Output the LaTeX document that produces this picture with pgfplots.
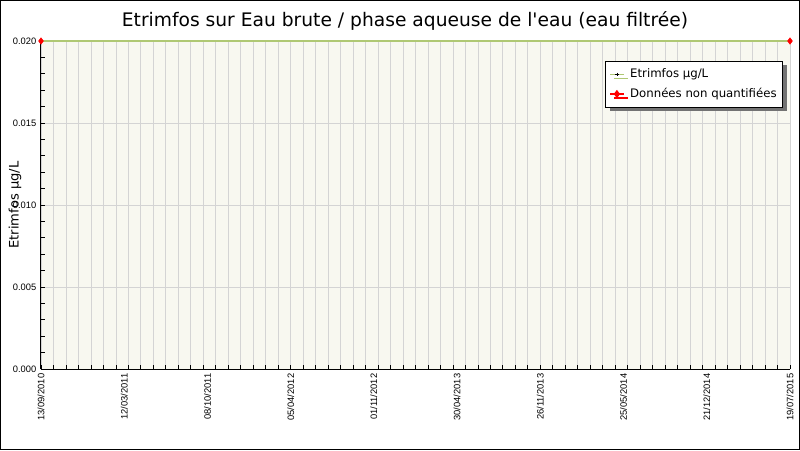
\documentclass[border=0pt]{standalone}
\usepackage{pgfplots}
\pgfplotsset{compat=1.18}
\usepackage{fontspec}
\setmainfont{DejaVu Sans}
\newfontfamily\tickfont{Liberation Sans}
\usetikzlibrary{shadows}

\definecolor{plotbg}{RGB}{248,248,240}
\definecolor{gridgray}{RGB}{212,212,212}
\definecolor{serieline}{RGB}{175,200,115}

\begin{document}
\begin{tikzpicture}
\useasboundingbox (0,0) rectangle (600pt,337.5pt);
\draw[black, line width=0.75pt] (0.375pt,0.375pt) rectangle (599.625pt,337.125pt);
\begin{axis}[
    at={(30.75pt,60.75pt)}, anchor=south west,
    scale only axis,
    width=561.75pt, height=246pt,
    xmin=0, xmax=60,
    ymin=0, ymax=0.02,
    clip=false,
    axis background/.style={fill=plotbg},
    axis x line*=bottom, axis y line*=left,
    axis line style={black, line width=0.75pt, -},
    title={Etrimfos sur Eau brute / phase aqueuse de l\textquotesingle eau (eau filtrée)},
    title style={at={(axis description cs:0.5,1)}, anchor=center, yshift=9pt, xshift=-7.9pt,
                 font=\fontsize{14}{16}\selectfont},
    ylabel={Etrimfos µg/L},
    ylabel style={at={(axis description cs:0,0.5)}, anchor=center, yshift=19.5pt,
                  font=\fontsize{9.8}{11}\selectfont},
    xtick={0,6.6667,13.3333,20,26.6667,33.3333,40,46.6667,53.3333,60},
    xticklabels={13/09/2010,12/03/2011,08/10/2011,05/04/2012,01/11/2012,30/04/2013,26/11/2013,25/05/2014,21/12/2014,19/07/2015},
    minor xtick={0,1,...,60},
    major x tick style={draw=none},
    xticklabel style={rotate=90, anchor=east, font=\tickfont\fontsize{7}{8}\selectfont},
    ytick={0,0.005,0.01,0.015,0.02},
    minor y tick num=4,
    /pgf/number format/assume math mode=true,
    yticklabel style={font=\tickfont\fontsize{7}{8}\selectfont, /pgf/number format/fixed,
                      /pgf/number format/fixed zerofill, /pgf/number format/precision=3},
    scaled y ticks=false,
    major tick length=3pt, minor tick length=3pt,
    tick style={black, line width=0.6pt},
    xminorgrids=true, xmajorgrids=false, ymajorgrids=true,
    grid style={gridgray, line width=0.6pt},
    minor grid style={gridgray, line width=0.6pt},
    legend style={at={(axis description cs:0.9907,0.939)}, anchor=north east,
                  draw=black, fill=white, line width=0.6pt,
                  font=\fontsize{8.8}{10.5}\selectfont,
                  row sep=2.5pt, column sep=3pt, inner xsep=3pt, inner ysep=3.5pt,
                  nodes={inner xsep=1.5pt},
                  drop shadow={shadow xshift=3pt, shadow yshift=-3pt, fill=gray!90!black, opacity=1}},
    legend cell align=left,
    legend image code/.code={
        \draw[#1] (0pt,0pt) -- (10pt,0pt);
        \draw[#1, only marks] plot coordinates {(5pt,0pt)};
    },
]
\addplot[serieline, line width=0.9pt, mark=+, mark size=1.2pt, mark options={black, line width=0.5pt}]
    coordinates {(0,0.02) (60,0.02)};
\addlegendentry{Etrimfos µg/L}
\addplot[only marks, red, mark=diamond*, mark size=2.4pt, forget plot]
    coordinates {(0,0.02) (60,0.02)};
\addlegendimage{red, line width=0.9pt, mark=diamond*, mark size=2.4pt}
\addlegendentry{Données non quantifiées}
\end{axis}
\end{tikzpicture}
\end{document}
